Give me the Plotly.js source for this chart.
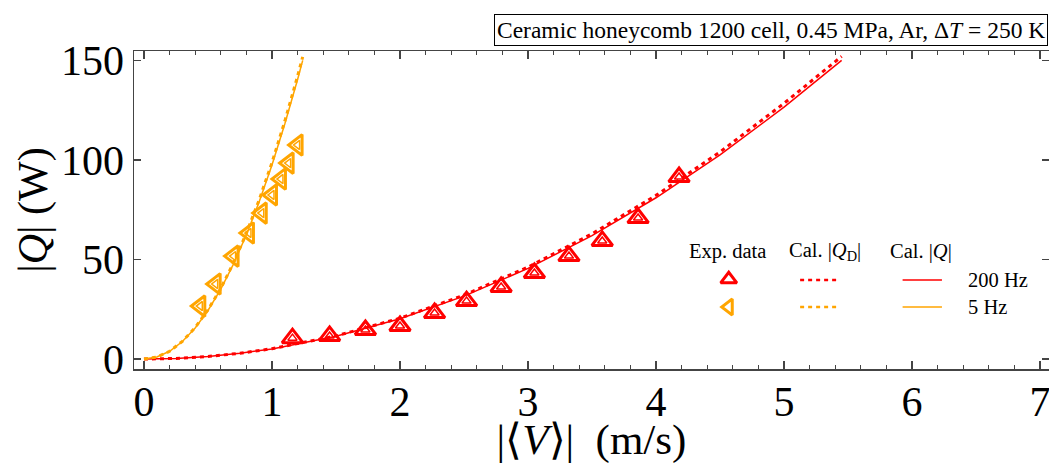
<!DOCTYPE html>
<html>
<head>
<meta charset="utf-8">
<script src="https://cdn.plot.ly/plotly-3.0.1.min.js"></script>
<style>html,body{margin:0;padding:0;background:#fff;}#chart{width:1049px;height:464px;}</style>
</head>
<body>
<div id="chart"></div>
<script>
// Experimental data, 200 Hz (red, up triangles)
const exp200V = [1.16, 1.45, 1.73, 2.00, 2.27, 2.52, 2.79, 3.05, 3.32, 3.58, 3.86, 4.18];
const exp200Q = [10.5, 11.6, 14.6, 16.6, 23.1, 29.1, 36.2, 43.2, 51.7, 59.3, 70.8, 91.4];
// Experimental data, 5 Hz (orange, left triangles)
const exp5V = [0.44, 0.56, 0.70, 0.82, 0.92, 1.00, 1.07, 1.13, 1.20];
const exp5Q = [26.6, 37.7, 51.7, 63.3, 73.3, 82.4, 90.4, 98.4, 107.5];
// Calculated curves, 200 Hz
const cal200V  = [0, 0.25, 0.5, 0.75, 1.0, 1.5, 2.0, 2.5, 3.0, 3.5, 4.0, 4.5, 5.0, 5.45];
const cal200Q  = [0, 0.3, 1.3, 2.9, 5.1, 11.4, 20.2, 31.6, 45.5, 62.0, 81.0, 102.5, 126.5, 150.0];
const cal200QD = [0, 0.3, 1.3, 2.9, 5.2, 11.6, 20.5, 32.1, 46.2, 62.9, 82.2, 104.0, 128.4, 152.0];
// Calculated curves, 5 Hz
const cal5V  = [0, 0.1, 0.2, 0.3, 0.4, 0.5, 0.6, 0.7, 0.8, 0.9, 1.0, 1.1, 1.2, 1.24];
const cal5Q  = [0, 1.0, 3.9, 8.8, 15.6, 24.4, 35.1, 47.8, 62.4, 79.0, 97.5, 118.0, 140.4, 150.0];
const cal5QD = [0, 1.0, 3.9, 8.9, 15.8, 24.7, 35.5, 48.4, 63.2, 80.0, 98.7, 119.4, 142.1, 151.8];
// Tick labels
const xTicks = [0, 1, 2, 3, 4, 5, 6, 7];
const yTicks = [0, 50, 100, 150];

const RED = '#ff0000', ORANGE = '#ffa500';
const SERIF = 'Liberation Serif, Times New Roman, serif';

const traces = [
  {x: cal200V, y: cal200Q, mode: 'lines', line: {color: RED, width: 1.5}, hoverinfo: 'skip'},
  {x: cal200V, y: cal200QD, mode: 'lines', line: {color: RED, width: 3, dash: '4px,4px'}, hoverinfo: 'skip'},
  {x: cal5V, y: cal5Q, mode: 'lines', line: {color: ORANGE, width: 1.5}, hoverinfo: 'skip'},
  {x: cal5V, y: cal5QD, mode: 'lines', line: {color: ORANGE, width: 3, dash: '4px,4px'}, hoverinfo: 'skip'},
  {x: exp200V, y: exp200Q, mode: 'markers', marker: {symbol: 'triangle-up-open', size: 18, color: RED, line: {width: 3, color: RED}}},
  {x: exp200V, y: exp200Q, mode: 'markers', marker: {symbol: 'triangle-up-open', size: 8, color: RED, line: {width: 1.5, color: RED}}},
  {x: exp5V, y: exp5Q, mode: 'markers', marker: {symbol: 'triangle-left-open', size: 18, color: ORANGE, line: {width: 3, color: ORANGE}}},
  {x: exp5V, y: exp5Q, mode: 'markers', marker: {symbol: 'triangle-left-open', size: 8, color: ORANGE, line: {width: 1.5, color: ORANGE}}},
  // legend glyphs on an overlay (paper-like) axis
  {x: [0.650], y: [0.282], xaxis: 'x2', yaxis: 'y2', mode: 'markers', marker: {symbol: 'triangle-up-open', size: 14, color: RED, line: {width: 3, color: RED}}},
  {x: [0.650], y: [0.195], xaxis: 'x2', yaxis: 'y2', mode: 'markers', marker: {symbol: 'triangle-left-open', size: 14, color: ORANGE, line: {width: 3, color: ORANGE}}},
  {x: [0.728, 0.768], y: [0.280, 0.280], xaxis: 'x2', yaxis: 'y2', mode: 'lines', line: {color: RED, width: 2.5, dash: '4px,4px'}},
  {x: [0.728, 0.768], y: [0.195, 0.195], xaxis: 'x2', yaxis: 'y2', mode: 'lines', line: {color: ORANGE, width: 2.5, dash: '4px,4px'}},
  {x: [0.840, 0.883], y: [0.280, 0.280], xaxis: 'x2', yaxis: 'y2', mode: 'lines', line: {color: RED, width: 1.5}},
  {x: [0.840, 0.883], y: [0.195, 0.195], xaxis: 'x2', yaxis: 'y2', mode: 'lines', line: {color: ORANGE, width: 1.5}}
];

const legFont = {family: SERIF, size: 20.5, color: '#000'};
const annotations = [
  {xref: 'paper', yref: 'paper', x: 0.9989, y: 1.066, xanchor: 'right', yanchor: 'middle', showarrow: false,
   text: 'Ceramic honeycomb 1200 cell, 0.45 MPa, Ar, Δ<i>T</i> = 250 K',
   font: {family: SERIF, size: 23.5, color: '#000'}, bordercolor: '#000', borderwidth: 1, borderpad: 2, bgcolor: '#fff'},
  {xref: 'paper', yref: 'paper', x: 0.649, y: 0.368, xanchor: 'center', yanchor: 'middle', showarrow: false, text: 'Exp. data', font: legFont},
  {xref: 'paper', yref: 'paper', x: 0.755, y: 0.368, xanchor: 'center', yanchor: 'middle', showarrow: false, text: 'Cal. |<i>Q</i><sub>D</sub>|', font: legFont},
  {xref: 'paper', yref: 'paper', x: 0.860, y: 0.368, xanchor: 'center', yanchor: 'middle', showarrow: false, text: 'Cal. |<i>Q</i>|', font: legFont},
  {xref: 'paper', yref: 'paper', x: 0.909, y: 0.280, xanchor: 'left', yanchor: 'middle', showarrow: false, text: '200 Hz', font: legFont},
  {xref: 'paper', yref: 'paper', x: 0.909, y: 0.195, xanchor: 'left', yanchor: 'middle', showarrow: false, text: '5 Hz', font: legFont}
];

const layout = {
  width: 1049, height: 464,
  margin: {l: 134, r: 0, t: 51, b: 95, pad: 0},
  paper_bgcolor: '#fff', plot_bgcolor: '#fff',
  showlegend: false,
  font: {family: SERIF, color: '#000'},
  xaxis: {
    range: [-0.078, 7.07], tickvals: xTicks, ticktext: xTicks.map(String),
    ticks: 'inside', ticklen: 8, tickwidth: 1.3, tickcolor: '#444',
    minor: {dtick: 0.2, tick0: 0, ticks: 'inside', ticklen: 4, tickwidth: 1.2, tickcolor: '#444'},
    showline: true, linecolor: '#444', linewidth: 1.5, mirror: 'ticks',
    showgrid: false, zeroline: false,
    ticklabeloverflow: 'allow', ticklabelstandoff: -5,
    tickfont: {family: SERIF, size: 42, color: '#000'},
    title: {text: '|⟨<i>V</i>⟩|  (m/s)', font: {family: SERIF, size: 43, color: '#000'}, standoff: 2}
  },
  yaxis: {
    range: [-5, 154.7], tickvals: yTicks, ticktext: yTicks.map(String),
    ticks: 'inside', ticklen: 7, tickwidth: 1.3, tickcolor: '#444',
    showline: true, linecolor: '#444', linewidth: 1.5, mirror: 'ticks',
    showgrid: false, zeroline: false,
    tickfont: {family: SERIF, size: 42, color: '#000'},
    title: {text: '|<i>Q</i>| (W)', font: {family: SERIF, size: 42, color: '#000'}, standoff: 0}
  },
  xaxis2: {overlaying: 'x', range: [0, 1], visible: false, fixedrange: true},
  yaxis2: {overlaying: 'y', range: [0, 1], visible: false, fixedrange: true},
  annotations: annotations
};

Plotly.newPlot('chart', traces, layout, {displayModeBar: false, staticPlot: true});
</script>
</body>
</html>
